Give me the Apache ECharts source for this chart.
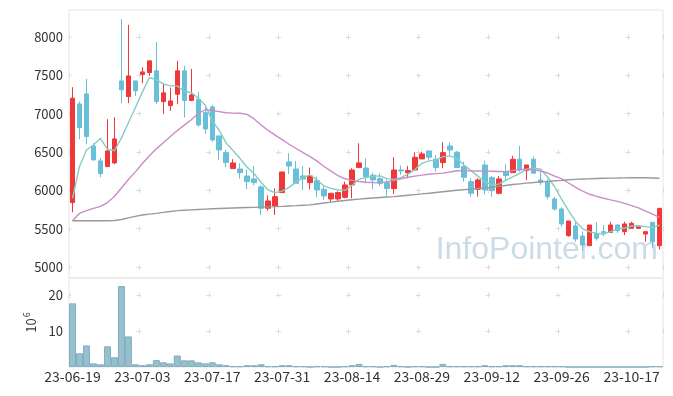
<!DOCTYPE html>
<html>
<head>
<meta charset="utf-8">
<script src="https://cdn.jsdelivr.net/npm/echarts@6/dist/echarts.min.js"></script>
<style>html,body{margin:0;padding:0;background:#fff}#c{width:673px;height:396px}</style>
</head>
<body>
<div id="c"></div>
<script>
const dates = ['23-06-19','23-06-20','23-06-21','23-06-22','23-06-23','23-06-26','23-06-27','23-06-28','23-06-29','23-06-30',
'23-07-03','23-07-04','23-07-05','23-07-06','23-07-07','23-07-10','23-07-11','23-07-12','23-07-13','23-07-14',
'23-07-17','23-07-18','23-07-19','23-07-20','23-07-21','23-07-24','23-07-25','23-07-26','23-07-27','23-07-28',
'23-07-31','23-08-01','23-08-02','23-08-03','23-08-04','23-08-07','23-08-08','23-08-09','23-08-10','23-08-11',
'23-08-14','23-08-16','23-08-17','23-08-18','23-08-21','23-08-22','23-08-23','23-08-24','23-08-25','23-08-28',
'23-08-29','23-08-30','23-08-31','23-09-01','23-09-04','23-09-05','23-09-06','23-09-07','23-09-08','23-09-11',
'23-09-12','23-09-13','23-09-14','23-09-15','23-09-18','23-09-19','23-09-20','23-09-21','23-09-22','23-09-25',
'23-09-26','23-09-27','23-10-04','23-10-05','23-10-06','23-10-10','23-10-11','23-10-12','23-10-13','23-10-16',
'23-10-17','23-10-18','23-10-19','23-10-20','23-10-23'];

const opens = [5840,7126,7257,6578,6383,6309,6357,7426,7222,7426,
7508,7535,7557,7157,7104,7252,7557,7170,7187,7013,
7087,6709,6491,6283,6278,6187,6148,6044,5766,5796,
5970,6370,6278,6187,6100,6126,6013,5887,5887,5909,
6070,6296,6291,6196,6152,6100,6022,6265,6230,6265,
6409,6513,6405,6361,6578,6496,6309,6113,6013,6330,
6165,5961,6244,6230,6405,6257,6405,6135,6113,5887,
5757,5409,5535,5404,5278,5439,5461,5452,5548,5461,
5504,5504,5430,5583,5278];
const closes = [7200,6817,6700,6396,6217,6513,6670,7309,7491,7296,
7543,7687,7157,7270,7165,7557,7170,7243,6852,6800,
6657,6526,6361,6357,6230,6113,6100,5766,5861,5917,
6239,6317,6091,6148,6187,6004,5926,5961,5970,6070,
6265,6357,6178,6135,6091,6022,6265,6252,6257,6431,
6474,6431,6296,6491,6526,6296,6170,5961,6135,6004,
5996,6148,6191,6405,6265,6330,6222,6104,5917,5757,
5561,5600,5365,5287,5548,5374,5448,5548,5474,5561,
5570,5535,5461,5330,5765];
const lows = [5714,6666,6600,6390,6170,6309,6340,7135,7135,7230,
7396,7491,7122,6992,7035,7122,6948,7170,6830,6735,
6635,6396,6300,6283,6152,6013,6065,5678,5735,5678,
5970,6213,6091,6004,6013,5909,5874,5852,5852,5896,
5896,6296,6091,6013,6057,5926,5952,6200,6157,6265,
6409,6396,6243,6287,6461,6296,6113,5917,5917,5948,
5917,5948,6135,6230,6243,6135,6222,6070,5883,5735,
5526,5396,5330,5213,5278,5343,5404,5452,5443,5417,
5504,5504,5330,5243,5230];
const highs = [7344,7156,7452,6613,6418,6927,6953,8231,8157,7426,
7604,7687,7931,7387,7339,7687,7622,7583,7283,7091,
7113,6709,6526,6405,6353,6274,6317,6065,5935,6026,
6239,6483,6383,6317,6296,6178,6057,5961,5987,6113,
6287,6613,6418,6230,6222,6143,6431,6322,6317,6496,
6504,6513,6461,6626,6626,6513,6374,6157,6157,6387,
6187,6187,6339,6448,6578,6330,6439,6243,6143,5917,
5778,5600,5583,5461,5548,5583,5548,5591,5556,5591,
5591,5535,5461,5583,5765];

const ma5 = [5896,6309,6526,6591,6678,6535,6517,6680,6880,7080,
7280,7470,7439,7387,7361,7361,7287,7274,7200,7108,
6907,6780,6615,6515,6411,6300,6216,6102,6004,5970,
5990,6038,6110,6165,6200,6135,6057,6026,6004,6000,
6065,6143,6165,6183,6188,6152,6143,6165,6210,6270,
6352,6383,6394,6439,6448,6418,6330,6260,6185,6113,
6072,6081,6132,6175,6220,6274,6287,6274,6170,6046,
5882,5733,5594,5498,5460,5439,5428,5462,5496,5508,
5535,5535,5526,5513,5548];
const ma20 = [5604,5700,5735,5765,5790,5840,5920,6030,6140,6240,
6350,6450,6540,6620,6700,6780,6850,6920,7000,7050,
7040,7026,7010,7006,7004,6990,6930,6850,6780,6720,
6660,6600,6545,6490,6440,6380,6310,6250,6190,6150,
6130,6115,6105,6102,6100,6110,6130,6150,6170,6185,
6198,6210,6218,6224,6238,6255,6257,6253,6252,6250,
6248,6246,6243,6258,6270,6274,6268,6250,6225,6185,
6150,6095,6039,5990,5948,5920,5896,5875,5856,5830,
5800,5770,5730,5690,5648];
const ma60 = [5604,5604,5604,5604,5604,5604,5606,5620,5640,5660,
5678,5690,5700,5712,5724,5735,5740,5745,5750,5755,
5760,5763,5766,5769,5772,5775,5778,5781,5784,5787,
5791,5796,5800,5805,5810,5822,5834,5846,5858,5868,
5877,5885,5893,5900,5906,5912,5917,5926,5935,5944,
5953,5961,5971,5981,5991,6000,6008,6016,6024,6032,
6039,6051,6063,6075,6084,6093,6101,6110,6117,6124,
6130,6137,6143,6147,6150,6154,6157,6159,6160,6162,
6164,6165,6163,6160,6157];

const volumes = [17.7,3.8,6.0,1.0,0.75,5.75,2.7,22.5,8.5,0.75,
0.5,0.75,1.9,1.3,1.0,3.2,1.85,1.85,1.3,1.0,
1.3,0.75,0.5,0.2,0.2,0.5,0.5,0.75,0.2,0.2,
0.5,0.5,0.2,0.2,0,0.2,0.2,0,0,0.2,
0.5,0.85,0.2,0.2,0,0.2,0.6,0.2,0,0.2,
0.2,0,0,0.85,0.2,0.2,0.2,0.2,0.2,0.5,
0.2,0.2,0.5,0.5,0.5,0.2,0.2,0.2,0.2,0.2,
0.2,0,0,0,0,0,0,0,0,0,
0,0,0,0.2,0.2];

const priceTicks = [5000,5500,6000,6500,7000,7500,8000];
const volTicks = [10,20];

const candleData = opens.map((o, i) => [o, closes[i], lows[i], highs[i]]);

const FONT = 'Noto Sans CJK KR';
const crossColor = '#dcdcdc';
const plain = v => String(v);
// horizontal split lines: short dashes at vertical grid columns
const hLine = {show: true, lineStyle: {color: crossColor, width: 1, type: [5, 64.88], dashOffset: 2.5}};

const chart = echarts.init(document.getElementById('c'), null, {renderer: 'canvas'});
chart.setOption({
  animation: false,
  backgroundColor: '#ffffff',
  textStyle: {fontFamily: FONT},
  grid: [
    {left: 69, top: 10, width: 594, height: 268, show: true, borderColor: '#e6e6e6', borderWidth: 1},
    {left: 69, top: 278, width: 594, height: 89, show: true, borderColor: '#e6e6e6', borderWidth: 1}
  ],
  xAxis: [
    {type: 'category', gridIndex: 0, data: dates, axisLine: {show: false}, axisTick: {show: false},
     axisLabel: {show: false},
     splitLine: {show: true, interval: 9, lineStyle: {color: crossColor, width: 1, type: [5, 33.4], dashOffset: 13.9}}},
    {type: 'category', gridIndex: 1, data: dates, axisLine: {show: false}, axisTick: {show: false},
     axisLabel: {interval: 9, fontSize: 14, color: '#333', margin: 3, fontFamily: FONT},
     splitLine: {show: true, interval: 9, lineStyle: {color: crossColor, width: 1, type: [5, 31, 5, 200], dashOffset: 226.5}}}
  ],
  yAxis: [
    {type: 'value', gridIndex: 0, min: 4857, max: 8350, axisLine: {show: false},
     axisTick: {show: false, customValues: priceTicks},
     axisLabel: {customValues: priceTicks, formatter: plain, fontSize: 13, color: '#333', margin: 6, fontFamily: FONT},
     splitLine: hLine},
    {type: 'value', gridIndex: 1, min: 0, max: 24.75, axisLine: {show: false},
     axisTick: {show: false, customValues: volTicks},
     axisLabel: {customValues: volTicks, formatter: plain, fontSize: 13, color: '#333', margin: 6, fontFamily: FONT},
     splitLine: hLine,
     name: '{a|10}{b|6}', nameLocation: 'middle', nameRotate: 90, nameGap: 27,
     nameTextStyle: {color: '#333', rich: {
       a: {fontSize: 13, fontFamily: FONT, color: '#333'},
       b: {fontSize: 9, fontFamily: FONT, color: '#333', padding: [0, 0, 9, 1]}
     }}}
  ],
  graphic: [
    {type: 'text', right: 15, top: 234, z: 0, silent: true,
     style: {text: 'InfoPointer.com', fontSize: 32, fontFamily: 'Liberation Sans', fill: '#cbdce6'}}
  ],
  series: [
    {type: 'candlestick', name: 'price', xAxisIndex: 0, yAxisIndex: 0, data: candleData, barWidth: 5,
     itemStyle: {color: '#f03838', color0: '#67bfd8', borderColor: '#f03838', borderColor0: '#67bfd8', borderWidth: 1}},
    {type: 'line', name: 'MA5', xAxisIndex: 0, yAxisIndex: 0, data: ma5, showSymbol: false, z: 3,
     lineStyle: {color: '#84cdc0', width: 1.4}},
    {type: 'line', name: 'MA20', xAxisIndex: 0, yAxisIndex: 0, data: ma20, showSymbol: false, z: 3,
     lineStyle: {color: '#c98dc8', width: 1.4}},
    {type: 'line', name: 'MA60', xAxisIndex: 0, yAxisIndex: 0, data: ma60, showSymbol: false, z: 3,
     lineStyle: {color: '#9a9a9a', width: 1.4}},
    {type: 'bar', name: 'volume', xAxisIndex: 1, yAxisIndex: 1, data: volumes, barCategoryGap: '0%',
     itemStyle: {color: '#97c0cf', borderColor: '#80adc0', borderWidth: 1}}
  ]
});
</script>
</body>
</html>
